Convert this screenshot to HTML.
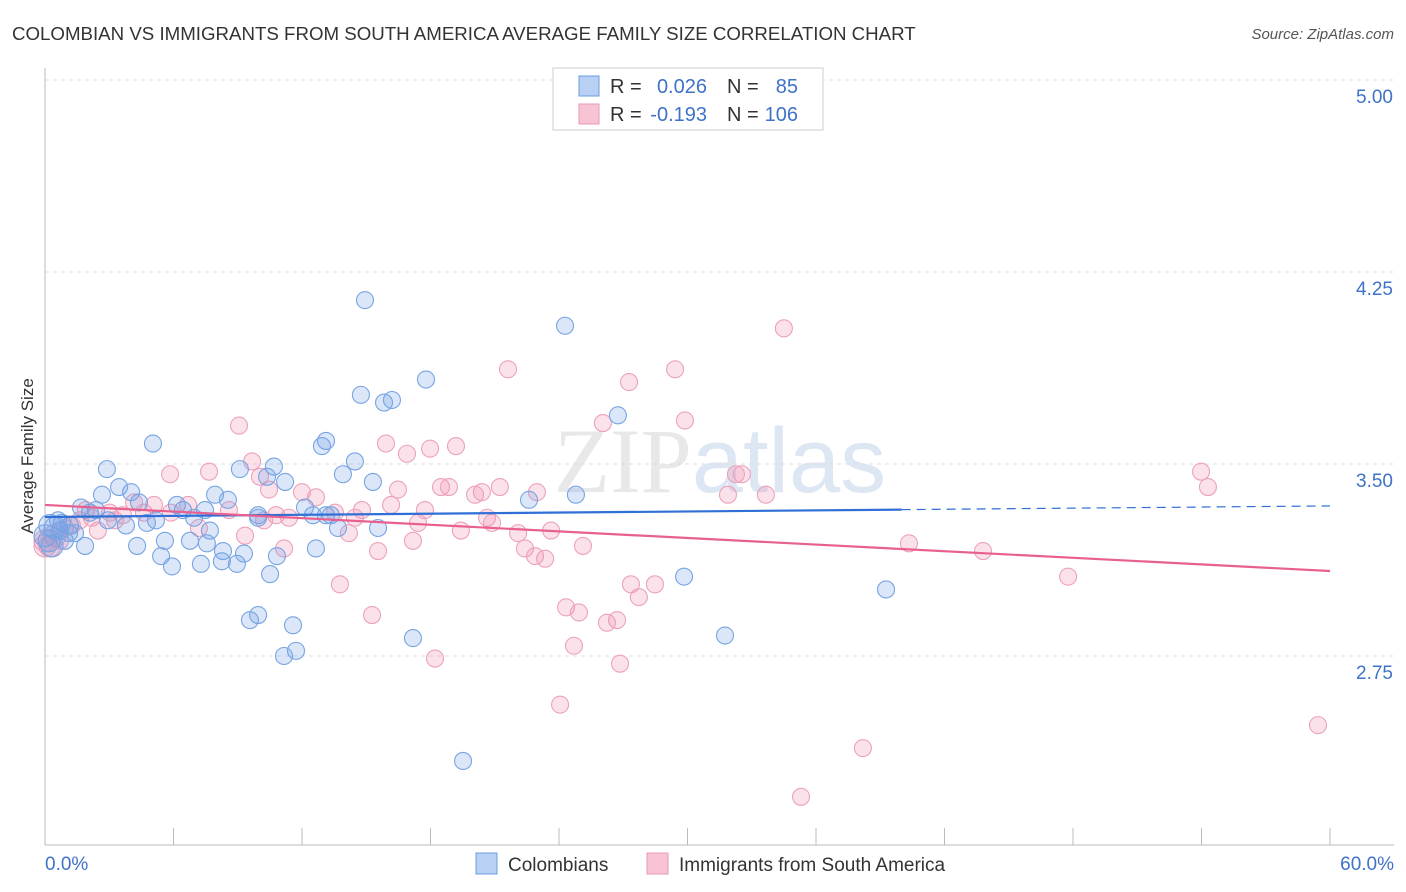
<!DOCTYPE html>
<html><head><meta charset="utf-8"><style>
body{margin:0;background:#fff;font-family:"Liberation Sans",sans-serif;}
</style></head><body>
<svg id="chart" width="1406" height="892" xmlns="http://www.w3.org/2000/svg" style="display:block">
<text x="12" y="40" font-size="18.7" fill="#333">COLOMBIAN VS IMMIGRANTS FROM SOUTH AMERICA AVERAGE FAMILY SIZE CORRELATION CHART</text>
<text x="1394" y="39" font-size="15" fill="#555" font-style="italic" text-anchor="end">Source: ZipAtlas.com</text>
<text x="720" y="492" font-size="92" fill="#e8e8e8" text-anchor="middle" font-family="Liberation Serif">ZIP<tspan fill="#dde6f3" font-family="Liberation Sans">atlas</tspan></text>
<text transform="translate(33,456) rotate(-90)" font-size="17" fill="#333" text-anchor="middle">Average Family Size</text>
<g id="grid"></g><g id="axes"></g><g id="pts"></g><g id="trends"></g>
<g>
<rect x="553" y="68" width="270" height="62" fill="#fff" stroke="#ccc"/>
<rect x="579" y="76" width="20" height="20" fill="#b8d0f3" stroke="#6a9be0"/>
<rect x="579" y="104" width="20" height="20" fill="#f8c4d4" stroke="#e89ab3"/>
<text x="610" y="93" font-size="20" fill="#333">R =</text>
<text x="707" y="93" font-size="20" fill="#3f72c8" text-anchor="end">0.026</text>
<text x="727" y="93" font-size="20" fill="#333">N =</text>
<text x="798" y="93" font-size="20" fill="#3f72c8" text-anchor="end">85</text>
<text x="610" y="121" font-size="20" fill="#333">R =</text>
<text x="707" y="121" font-size="20" fill="#3f72c8" text-anchor="end">-0.193</text>
<text x="727" y="121" font-size="20" fill="#333">N =</text>
<text x="798" y="121" font-size="20" fill="#3f72c8" text-anchor="end">106</text>
</g>
<g>
<rect x="476" y="853" width="21" height="21" fill="#b8d0f3" stroke="#6a9be0"/>
<text x="508" y="871" font-size="19" fill="#333">Colombians</text>
<rect x="647" y="853" width="21" height="21" fill="#f8c4d4" stroke="#e89ab3"/>
<text x="679" y="871" font-size="19" fill="#333">Immigrants from South America</text>
</g>
</svg>
<script>
const yTicks=[5.00,4.25,3.50,2.75];
const yTickLabels=["5.00","4.25","3.50","2.75"];
const xTickLabels=["0.0%","60.0%"];
const blueX=[14.94,24.28,17.79,14.75,16.20,15.83,26.75,5.04,13.12,12.93,14.47,2.89,9.10,10.69,10.37,13.91,15.31,11.21,24.79,22.60,2.66,4.02,3.46,7.94,8.54,4.39,6.16,6.44,7.47,1.68,2.38,2.10,9.95,12.14,13.12,12.51,13.35,9.95,6.96,5.18,4.76,3.78,15.55,13.68,7.70,2.94,0.79,0.47,1.12,0.19,1.87,4.30,5.60,6.77,7.56,8.31,9.29,10.83,12.65,5.42,5.93,7.28,8.26,8.96,10.51,29.84,39.27,9.95,9.57,11.58,17.18,31.75,11.72,11.16,19.52,0.23,0.70,0.0,1.17,1.40,0.61,0.33,0.93];
const blueY=[4.14,4.04,3.83,3.77,3.75,3.74,3.69,3.58,3.59,3.57,3.51,3.48,3.48,3.49,3.45,3.46,3.43,3.43,3.38,3.36,3.38,3.39,3.41,3.38,3.36,3.35,3.34,3.32,3.32,3.33,3.32,3.31,3.30,3.33,3.30,3.30,3.30,3.29,3.29,3.28,3.27,3.26,3.25,3.25,3.24,3.28,3.27,3.25,3.23,3.20,3.18,3.18,3.20,3.20,3.19,3.16,3.15,3.14,3.17,3.14,3.10,3.11,3.12,3.11,3.07,3.06,3.01,2.91,2.89,2.87,2.82,2.83,2.77,2.75,2.34,3.26,3.24,3.22,3.26,3.23,3.28,3.18,3.20];
const pinkX=[34.5,21.62,29.42,27.27,29.88,26.05,9.06,15.92,19.19,17.98,16.90,9.67,7.66,5.84,32.54,32.26,53.98,10.04,10.46,12.0,12.65,18.49,18.86,16.48,20.40,22.97,21.24,20.08,54.30,31.89,33.66,5.09,4.16,6.68,8.59,5.88,4.62,3.64,3.03,1.91,10.79,11.39,10.23,13.54,14.80,16.16,17.74,14.47,20.64,20.87,17.42,14.19,19.42,22.09,23.63,1.63,0.93,2.47,3.27,9.34,7.19,17.18,15.55,11.16,22.41,22.88,23.35,25.12,40.34,43.80,47.77,13.77,27.36,28.48,27.73,24.33,24.93,26.71,26.24,15.27,24.70,26.85,18.21,24.05,38.19,35.30,59.44,0.23,0.47,0,0.70,1.26,2.19,0];
const pinkY=[4.03,3.87,3.87,3.82,3.67,3.66,3.65,3.58,3.57,3.56,3.54,3.51,3.47,3.46,3.46,3.46,3.47,3.45,3.40,3.39,3.37,3.41,3.41,3.40,3.39,3.39,3.41,3.38,3.41,3.38,3.38,3.34,3.35,3.34,3.32,3.31,3.31,3.30,3.31,3.32,3.30,3.29,3.28,3.31,3.32,3.34,3.32,3.29,3.29,3.27,3.27,3.23,3.24,3.23,3.24,3.28,3.25,3.24,3.28,3.22,3.25,3.20,3.16,3.17,3.17,3.14,3.13,3.18,3.19,3.16,3.06,3.03,3.03,3.03,2.98,2.94,2.92,2.89,2.88,2.91,2.79,2.72,2.74,2.56,2.39,2.20,2.48,3.18,3.22,3.18,3.20,3.26,3.29,3.20];
const blueTrend=[3.293,0.00072];
const pinkTrend=[3.34,-0.0043];
const X=p=>45+p*1285/60, Y=v=>80+(5-v)*256;
const NS="http://www.w3.org/2000/svg";
function mk(t,a,parent){const e=document.createElementNS(NS,t);for(const k in a)e.setAttribute(k,a[k]);document.getElementById(parent).appendChild(e);return e;}
yTicks.forEach((v,i)=>{
 const l=mk('line',{x1:45,x2:1394,y1:Y(v),y2:Y(v),stroke:'#ddd','stroke-dasharray':'4,4'},'grid');
 
 
 const t=mk('text',{x:1393,y:Y(v)+23,'font-size':19,fill:'#3f72c8','text-anchor':'end'},'grid');
 t.textContent=yTickLabels[i];
 
 
});
const ax=mk('line',{x1:45,x2:1394,y1:845,y2:845,stroke:'#bbb'},'axes');


const ay=mk('line',{x1:45,x2:45,y1:68,y2:845,stroke:'#bbb'},'axes');


for(let i=0;i<=10;i++){const tk=mk('line',{x1:X(i*6),x2:X(i*6),y1:828,y2:845,stroke:'#bbb'},'axes');
 
 }
[[0,'start',45],[60,'end',1394]].forEach((d,i)=>{const t=mk('text',{x:d[2],y:870,'font-size':19,fill:'#3f72c8','text-anchor':d[1]},'axes');t.textContent=xTickLabels[i];
 
 });
function dots(xs,ys,fill,stroke,name){xs.forEach((x,i)=>{const r=(x<0.5)?11:8.5;
 const c=mk('circle',{cx:X(x),cy:Y(ys[i]),r:r,fill:fill,stroke:stroke,'stroke-width':1.1},'pts');
 
 });}
dots(pinkX,pinkY,'rgba(240,140,170,0.25)','#eca2bb','pink-point');
dots(blueX,blueY,'rgba(110,160,230,0.25)','#77a4e2','blue-point');
const bt=v=>blueTrend[0]+blueTrend[1]*v, pt=v=>pinkTrend[0]+pinkTrend[1]*v;
let l1=mk('line',{x1:X(0),y1:Y(bt(0)),x2:X(40),y2:Y(bt(40)),stroke:'#2f6fd6','stroke-width':2.2},'trends');


let l2=mk('line',{x1:X(40),y1:Y(bt(40)),x2:X(60),y2:Y(bt(60)),stroke:'#2f6fd6','stroke-width':1.2,'stroke-dasharray':'9,6'},'trends');


let l3=mk('line',{x1:X(0),y1:Y(pt(0)),x2:X(60),y2:Y(pt(60)),stroke:'#e8608e','stroke-width':2.2},'trends');


</script>
</body></html>
